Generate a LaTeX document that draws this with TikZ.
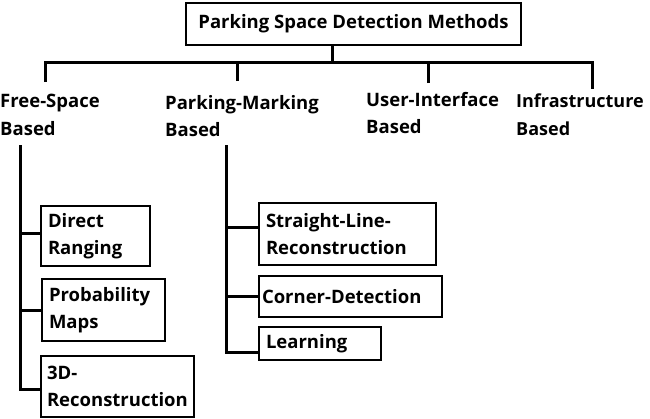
\documentclass[tikz,border=0pt]{standalone}
\usepackage{fontspec}
\setmainfont{Open Sans}
\usepackage{tikz}
\usetikzlibrary{positioning}

\tikzset{
  every node/.style={font=\bfseries\fontsize{18.5}{27.5}\selectfont},
  tree/.style={line width=3pt},
  rootbox/.style={draw, line width=2pt, minimum width=335pt, minimum height=42pt,
    anchor=north west, inner sep=0pt},
  category/.style={align=left, anchor=north west, inner sep=0pt},
  leafbox/.style={draw, line width=2pt, align=left, anchor=north west,
    inner xsep=7pt, inner ysep=0pt},
}

\begin{document}
\begin{tikzpicture}[x=1pt, y=-1pt]
\useasboundingbox (0,0) rectangle (650,418);

% top of the tree
\node[rootbox] (root) at (185,2) {Parking Space Detection Methods};

\coordinate (hub) at (332,62);
\coordinate (fsEnd) at (45,82);
\coordinate (pmEnd) at (237,81);
\coordinate (uiEnd) at (428,83);
\coordinate (inEnd) at (592,89);

\draw[tree] (root.south -| hub) -- (hub);
\draw[tree] (fsEnd) |- (inEnd |- hub) -- (inEnd);
\draw[tree] (pmEnd) -- (pmEnd |- hub);
\draw[tree] (uiEnd) -- (uiEnd |- hub);

% the four groups
\node[category] (fs) at (0,94) {Free-Space\\Based};
\node[category] (pm) at (165,95) {Parking-Marking\\Based};
\node[category] (ui) at (366,92) {User-Interface\\Based};
\node[category, font=\bfseries\fontsize{18}{27.5}\selectfont] (inf) at (516,94) {Infrastructure\\Based};

% free-space branch
\node[leafbox, text width=95pt, minimum height=60pt] (dr) at (40,205) {Direct\\Ranging};
\node[leafbox, text width=109pt, minimum height=62pt] (pmap) at (41,278) {Probability\\Maps};
\node[leafbox, inner xsep=6pt, text width=141pt, minimum height=61pt] (rec) at (40,355) {3D-\\Reconstruction};

\coordinate (fsTrunk) at (20,145);
\draw[tree] (fsTrunk) |- ([yshift=3pt]dr.west);
\draw[tree] (fsTrunk) |- (pmap.west);
\draw[tree] (fsTrunk) |- ([yshift=-3pt]rec.west);

% parking-marking branch
\node[leafbox, text width=163pt, minimum height=62pt] (sl) at (258,202) {Straight-Line-\\Reconstruction};
\node[leafbox, inner xsep=3pt, text width=177pt, minimum height=41pt] (cd) at (258,275) {Corner-Detection};
\node[leafbox, text width=108pt, minimum height=33pt] (lr) at (258,326) {Learning};

\coordinate (pmTrunk) at (226,145);
\draw[tree] (pmTrunk) |- ([yshift=7pt]sl.west);
\draw[tree] (pmTrunk) |- (cd.west);
\draw[tree] (pmTrunk) |- ([yshift=-9pt]lr.west);
\end{tikzpicture}
\end{document}
